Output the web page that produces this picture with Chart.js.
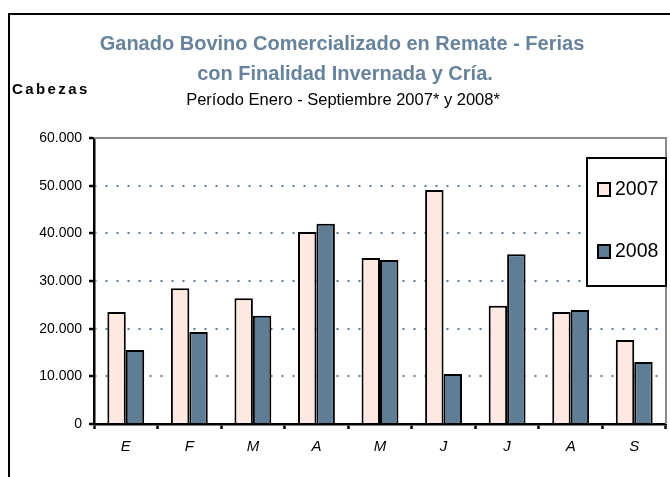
<!DOCTYPE html>
<html>
<head>
<meta charset="utf-8">
<script src="https://cdn.jsdelivr.net/npm/chart.js@4.4.1/dist/chart.umd.min.js"></script>
<style>
    html, body { margin: 0; padding: 0; background: #fff; overflow: hidden; }
    #wrap { position: relative; width: 670px; height: 477px; }
    #frame {
        position: absolute; left: 8px; top: 13px; width: 700px; height: 500px;
        border-left: 2px solid #000; border-top: 2px solid #000;
    }
    #chart { position: absolute; left: 0; top: 0; }
</style>
</head>
<body>
<div id="wrap">
    <div id="frame"></div>
    <canvas id="chart" width="670" height="477"></canvas>
</div>
<script>
// Data
const months = ['E', 'F', 'M', 'A', 'M', 'J', 'J', 'A', 'S'];
const series2007 = [23500, 28500, 26400, 40300, 34800, 49100, 24800, 23500, 17600];
const series2008 = [15500, 19300, 22700, 42000, 34400, 10500, 35600, 23900, 13000];
const seriesLabels = ['2007', '2008'];
const yMax = 60000;
const yStep = 10000;

const titleLines = ['Ganado Bovino Comercializado en Remate - Ferias', 'con Finalidad Invernada y Cría.'];
const subtitleText = 'Período Enero - Septiembre 2007* y 2008*';
const yAxisTitle = 'Cabezas';

const FONT = "'Liberation Sans', Arial, sans-serif";
const fill2007 = '#fde9e2';
const fill2008 = '#5f7d95';

// titles + "Cabezas" drawn at fixed spots
const headerPlugin = {
    id: 'header',
    afterDraw(chart) {
        const ctx = chart.ctx;
        ctx.save();
        ctx.textAlign = 'center';
        ctx.textBaseline = 'middle';
        ctx.fillStyle = '#67829b';
        ctx.font = `bold 20px ${FONT}`;
        ctx.fillText(titleLines[0], 342, 44);
        ctx.fillText(titleLines[1], 345, 74);

        ctx.fillStyle = '#000';
        ctx.font = `16.5px ${FONT}`;
        ctx.fillText(subtitleText, 343, 100);

        ctx.textAlign = 'left';
        ctx.font = `bold 15px ${FONT}`;
        ctx.letterSpacing = '2.4px';
        ctx.fillText(yAxisTitle, 12, 90);
        ctx.restore();
    }
};

// gray frame on top / right of plot area
const plotFramePlugin = {
    id: 'plotFrame',
    beforeDatasetsDraw(chart) {
        const { ctx, chartArea: a } = chart;
        ctx.save();
        ctx.strokeStyle = '#8c8c8c';
        ctx.lineWidth = 2;
        ctx.beginPath();
        ctx.moveTo(a.left, a.top);
        ctx.lineTo(a.right, a.top);
        ctx.lineTo(a.right, a.bottom);
        ctx.stroke();
        ctx.restore();
    }
};

// boxed legend inside the plot, like the original
const boxLegendPlugin = {
    id: 'boxLegend',
    afterDraw(chart) {
        const ctx = chart.ctx;
        const box = { x: 587, y: 158, w: 79, h: 128 };
        const rowsY = [189, 251];
        ctx.save();
        ctx.fillStyle = '#fff';
        ctx.fillRect(box.x, box.y, box.w, box.h);
        ctx.strokeStyle = '#000';
        ctx.lineWidth = 2;
        ctx.strokeRect(box.x, box.y, box.w, box.h);

        ctx.font = `19.5px ${FONT}`;
        ctx.textBaseline = 'middle';
        chart.data.datasets.forEach((ds, i) => {
            const cy = rowsY[i];
            ctx.fillStyle = ds.backgroundColor;
            ctx.fillRect(598, cy - 6, 12, 13);
            ctx.lineWidth = 2;
            ctx.strokeRect(598, cy - 6, 12, 13);
            ctx.fillStyle = '#000';
            ctx.fillText(ds.label, 615, cy + 1);
        });
        ctx.restore();
    }
};

function formatThousands(v) {
    return String(v).replace(/\B(?=(\d{3})+(?!\d))/g, '.');
}

const ctx = document.getElementById('chart');
new Chart(ctx, {
    type: 'bar',
    data: {
        labels: months,
        datasets: [
            {
                label: seriesLabels[0],
                data: series2007,
                backgroundColor: fill2007,
                borderColor: '#000',
                borderWidth: 2
            },
            {
                label: seriesLabels[1],
                data: series2008,
                backgroundColor: fill2008,
                borderColor: '#000',
                borderWidth: 2
            }
        ]
    },
    options: {
        responsive: false,
        animation: false,
        devicePixelRatio: 1,
        layout: { padding: { top: 138, right: 4, left: 0, bottom: 0 } },
        categoryPercentage: 0.58,
        barPercentage: 1.0,
        plugins: {
            legend: { display: false },
            title: { display: false },
            tooltip: { enabled: false }
        },
        scales: {
            x: {
                afterFit(scale) { scale.height = 53; },
                grid: {
                    drawOnChartArea: false,
                    drawTicks: true,
                    tickLength: 5,
                    tickWidth: 2.5,
                    tickColor: '#000'
                },
                border: { display: true, color: '#000', width: 2.5 },
                ticks: {
                    color: '#000',
                    padding: 9,
                    font: { family: FONT, size: 15, style: 'italic' }
                }
            },
            y: {
                min: 0,
                max: yMax,
                afterFit(scale) { scale.width = 94; },
                grid: {
                    color: c => (c.tick && (c.tick.value === 0 || c.tick.value === yMax)) ? 'rgba(0,0,0,0)' : '#5d7c9b',
                    lineWidth: 2,
                    drawTicks: true,
                    tickLength: 5,
                    tickWidth: 2.5,
                    tickColor: '#000'
                },
                border: { display: true, color: '#000', width: 2.5, dash: [2, 9], dashOffset: -10 },
                ticks: {
                    stepSize: yStep,
                    color: '#000',
                    padding: 7,
                    font: { family: FONT, size: 14 },
                    callback: v => formatThousands(v)
                }
            }
        }
    },
    plugins: [plotFramePlugin, headerPlugin, boxLegendPlugin]
});
</script>
</body>
</html>
